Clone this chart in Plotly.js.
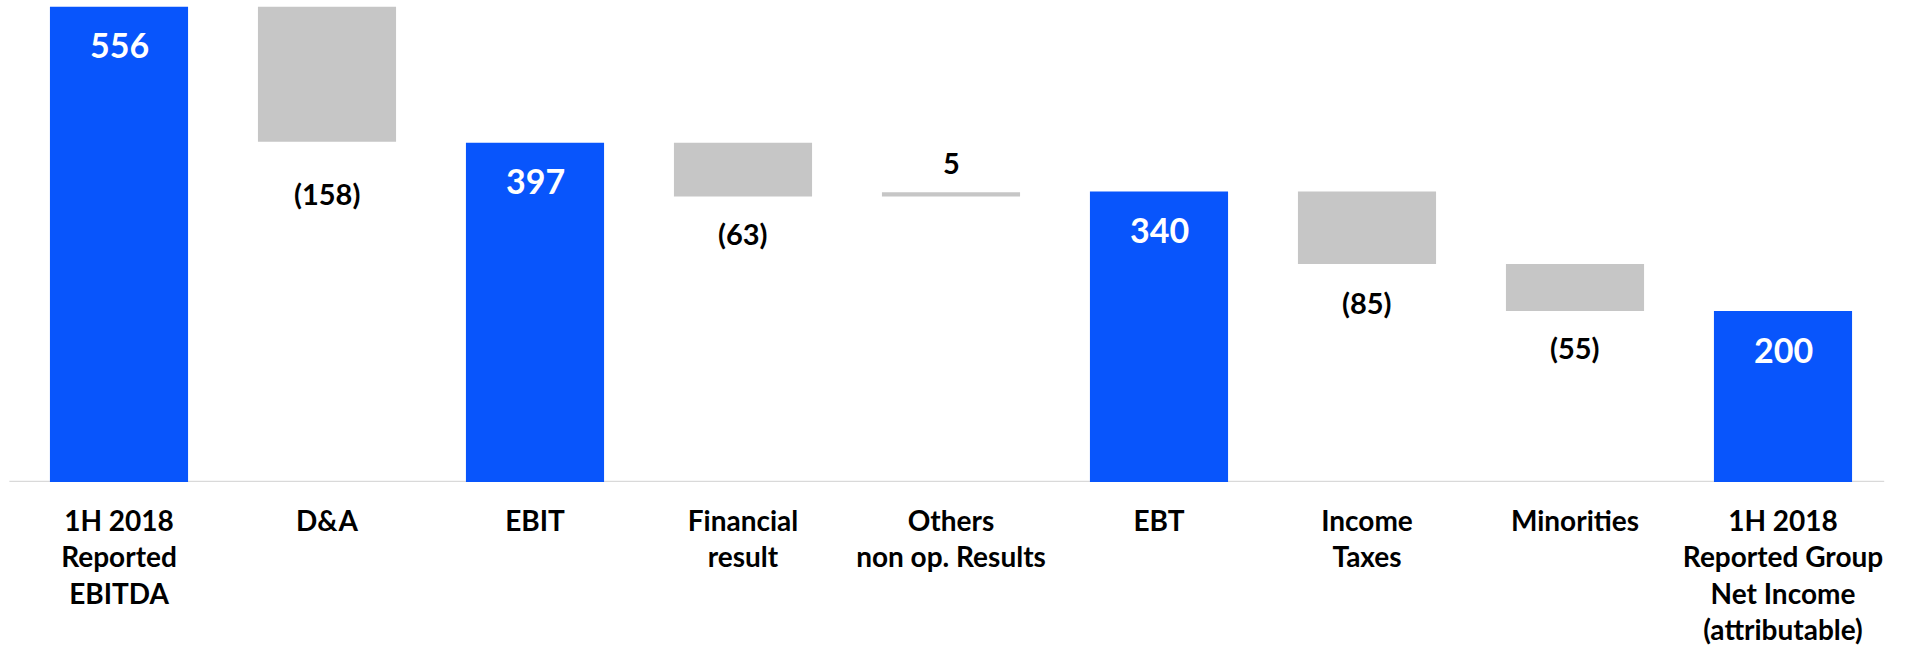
<!DOCTYPE html>
<html>
<head>
<meta charset="utf-8">
<script src="https://cdn.plot.ly/plotly-3.0.1.min.js"></script>
<style>html,body{margin:0;padding:0;background:#fff;}#chart{width:1913px;height:650px;}</style>
</head>
<body>
<div id="chart"></div>
<script>
const categories = [
  "1H 2018<br>Reported<br>EBITDA",
  "D&A",
  "EBIT",
  "Financial<br>result",
  "Others<br>non op. Results",
  "EBT",
  "Income<br>Taxes",
  "Minorities",
  "1H 2018<br>Reported Group<br>Net Income<br>(attributable)"
];
const values = [556, -158, 397, -63, 5, 340, -85, -55, 200];
const kinds = ["total", "delta", "total", "delta", "delta", "total", "delta", "delta", "total"];
const valueLabels = ["556", "(158)", "397", "(63)", "5", "340", "(85)", "(55)", "200"];

const BLUE = "#0855FC";
const GREY = "#C6C6C6";
const labelOffsets = [-38, -52, -38, -37, 30, -38, -38, -36, -38];

let running = 0;
const bases = [], heights = [], colors = [];
values.forEach((v, i) => {
  if (kinds[i] === "total") {
    bases.push(0); heights.push(v); colors.push(BLUE); running = v;
  } else {
    bases.push(running); heights.push(v); colors.push(GREY); running += v;
  }
});

const annotations = values.map((v, i) => {
  const isTotal = kinds[i] === "total";
  const yAnchor = isTotal ? v : bases[i] + v;
  return {
    x: categories[i], y: yAnchor, xref: "x", yref: "y",
    text: valueLabels[i], showarrow: false,
    yshift: labelOffsets[i], yanchor: "middle",
    font: {family: "Lato, 'Open Sans', sans-serif", size: isTotal ? 34 : 29,
           color: isTotal ? "#ffffff" : "#000000", weight: 700}
  };
});

const trace = {
  type: "bar",
  x: categories,
  y: heights,
  base: bases,
  marker: {color: colors, line: {width: 0}},
  hoverinfo: "skip",
  showlegend: false
};

const layout = {
  width: 1913, height: 650,
  margin: {l: 15, r: 26, t: 0, b: 168, pad: 0},
  paper_bgcolor: "#ffffff", plot_bgcolor: "#ffffff",
  bargap: 0.336,
  font: {family: "Lato, 'Open Sans', sans-serif", color: "#000000"},
  xaxis: {
    type: "category",
    showgrid: false, zeroline: false,
    showline: false,
    ticks: "", ticklen: 0,
    tickfont: {family: "Lato, 'Open Sans', sans-serif", size: 28, color: "#000000", weight: 700},
    ticklabelstandoff: 20,
    fixedrange: true
  },
  yaxis: {
    range: [0, 564], visible: false, showgrid: false, zeroline: false, fixedrange: true
  },
  shapes: [{
    type: "line", xref: "paper", yref: "y", x0: -0.003, x1: 0.9985, y0: 0, y1: 0,
    line: {color: "#D9D9D9", width: 2.5}, layer: "below"
  }],
  annotations: annotations
};

Plotly.newPlot("chart", [trace], layout, {displayModeBar: false, staticPlot: true});
</script>
</body>
</html>
